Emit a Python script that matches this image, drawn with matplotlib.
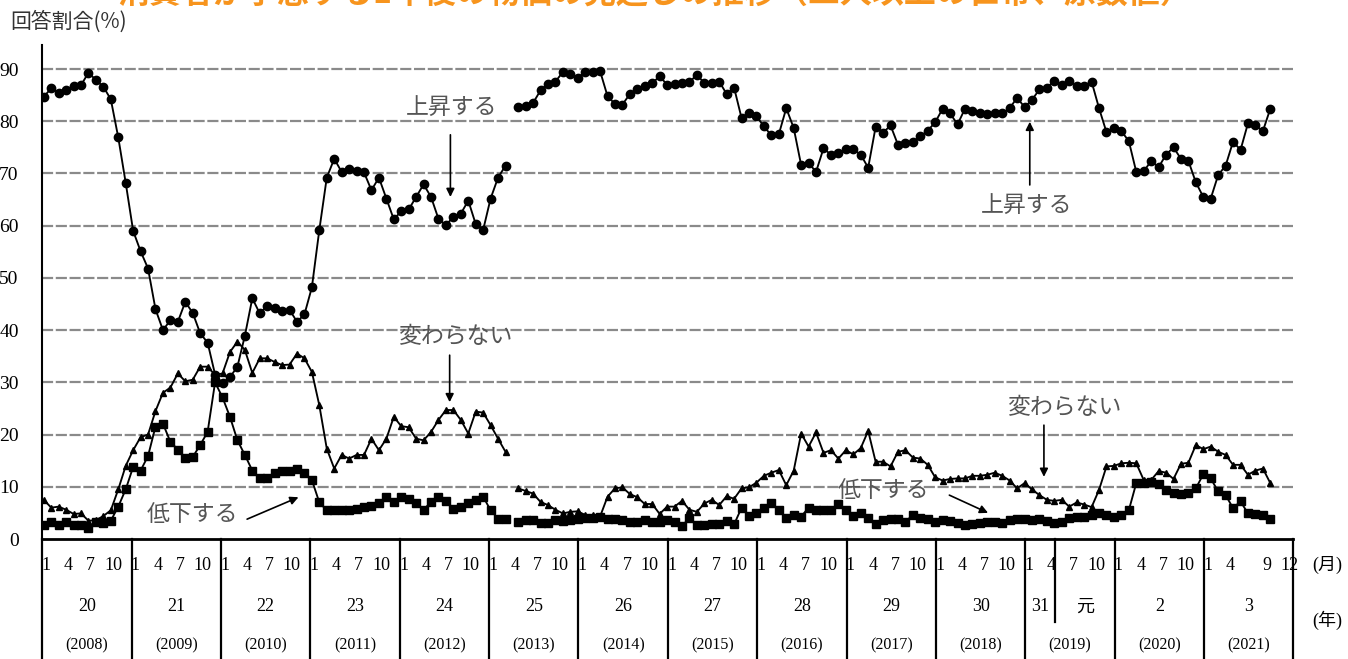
import numpy as np
import matplotlib
matplotlib.use("Agg")
import matplotlib.pyplot as plt

plt.rcParams['font.family'] = ['Liberation Serif', 'Noto Sans CJK JP', 'DejaVu Sans']

# 旧調査 2008年1月〜2013年3月 (%)
old_up = [84.7, 86.3, 85.5, 86.0, 86.8, 86.9, 89.3, 87.9, 86.6, 84.2, 76.9, 68.2,
          59.0, 55.1, 51.8, 44.0, 40.0, 41.9, 41.6, 45.4, 43.3, 39.4, 37.6, 31.5,
          29.8, 31.0, 33.0, 38.9, 46.1, 43.2, 44.7, 44.3, 43.6, 43.9, 41.6, 43.0,
          48.2, 59.2, 69.2, 72.8, 70.3, 70.8, 70.5, 70.2, 66.8, 69.2, 65.2, 61.2,
          62.8, 63.1, 65.5, 67.9, 65.5, 61.3, 60.1, 61.7, 62.3, 64.8, 60.3, 59.2,
          65.2, 69.2, 71.5]
old_same = [7.5, 6.0, 6.2, 5.6, 4.8, 4.9, 3.5, 3.6, 4.4, 5.5, 9.5, 14.0,
            17.0, 19.5, 20.0, 24.5, 28.0, 29.0, 31.7, 30.2, 30.5, 33.0, 33.0, 31.4,
            31.7, 35.8, 37.8, 36.2, 31.8, 34.6, 34.6, 33.9, 33.3, 33.4, 35.5, 34.6,
            32.0, 25.6, 17.3, 13.5, 16.1, 15.4, 16.1, 16.1, 19.2, 17.0, 19.2, 23.4,
            21.6, 21.4, 19.2, 18.9, 20.5, 22.8, 24.7, 24.7, 22.8, 20.2, 24.4, 24.2,
            21.8, 19.2, 16.7]
old_down = [2.6, 3.3, 2.6, 3.3, 2.6, 2.6, 2.2, 3.3, 3.0, 3.5, 6.2, 9.5,
            13.8, 13.1, 15.9, 21.5, 22.1, 18.6, 17.1, 15.6, 15.7, 18.0, 20.5, 30.0,
            27.1, 23.4, 18.9, 16.1, 13.1, 11.6, 11.6, 12.6, 13.1, 13.1, 13.5, 12.7,
            11.3, 7.0, 5.5, 5.5, 5.5, 5.5, 5.8, 6.2, 6.3, 6.9, 8.1, 7.1,
            8.1, 7.6, 6.8, 5.6, 7.1, 8.1, 7.3, 5.8, 6.2, 6.8, 7.4, 8.1,
            5.5, 3.9, 3.9]

# 新調査 2013年4月〜2021年9月 (%)
new_up = [82.7, 82.9, 83.5, 85.9, 87.2, 87.6, 89.4, 89.1, 88.3,
          89.4, 89.4, 89.6, 84.8, 83.3, 83.2, 85.2, 86.1, 86.7, 87.3, 88.6, 87.0,
          87.2, 87.3, 87.5, 88.9, 87.3, 87.3, 87.6, 85.2, 86.4, 80.6, 81.6, 81.0,
          79.0, 77.3, 77.5, 82.5, 78.7, 71.6, 72.0, 70.3, 74.8, 73.6, 74.0, 74.6,
          74.6, 73.6, 71.1, 78.9, 77.8, 79.2, 75.5, 75.9, 76.0, 77.1, 78.2, 79.8,
          82.4, 81.5, 79.4, 82.4, 81.9, 81.6, 81.3, 81.5, 81.5, 82.5, 84.5, 82.7,
          84.1, 86.1, 86.4, 87.8, 86.9, 87.8, 86.8, 86.8, 87.6, 82.5, 77.9, 78.7,
          78.1, 76.2, 70.3, 70.4, 72.4, 71.2, 73.6, 75.0, 72.8, 72.4, 68.3, 65.5,
          65.2, 69.7, 71.5, 76.1, 74.5, 79.6, 79.2, 78.1, 82.4]
new_same = [9.7, 9.2, 8.7, 7.1, 6.5, 5.6, 4.9, 5.2, 5.3,
            4.6, 4.6, 4.3, 8.1, 9.7, 9.9, 8.6, 8.0, 6.7, 6.7, 4.8, 6.2,
            6.2, 7.3, 5.6, 5.2, 6.8, 7.5, 6.5, 8.2, 7.7, 9.7, 9.9, 10.8,
            12.1, 12.7, 13.2, 10.3, 13.1, 20.2, 17.7, 20.4, 16.5, 17.0, 15.4, 17.0,
            16.2, 17.4, 20.7, 14.8, 14.8, 13.9, 16.7, 17.0, 15.6, 15.4, 14.2, 11.8,
            11.2, 11.5, 11.6, 11.6, 12.1, 12.1, 12.3, 12.7, 12.1, 11.2, 9.7, 10.7,
            9.5, 8.4, 7.5, 7.3, 7.5, 6.2, 7.0, 6.6, 6.1, 9.4, 13.9, 14.0,
            14.5, 14.6, 14.5, 11.3, 11.3, 13.0, 12.7, 11.5, 14.4, 14.6, 18.0, 17.2,
            17.7, 16.7, 16.1, 14.2, 14.2, 12.3, 13.1, 13.5, 10.7]
new_down = [3.3, 3.6, 3.6, 3.0, 3.0, 3.6, 3.5, 3.7, 3.8,
            4.0, 4.0, 4.2, 3.8, 3.8, 3.6, 3.3, 3.3, 3.6, 3.3, 3.3, 3.6,
            3.3, 2.5, 4.0, 2.6, 2.6, 2.9, 2.9, 3.5, 2.8, 6.0, 4.4, 4.9,
            6.0, 6.8, 5.5, 4.0, 4.6, 4.3, 6.0, 5.6, 5.6, 5.6, 6.7, 5.5,
            4.4, 4.9, 4.0, 2.9, 3.6, 3.8, 3.8, 3.3, 4.6, 4.0, 3.8, 3.3,
            3.6, 3.5, 3.1, 2.7, 2.9, 3.1, 3.3, 3.3, 3.1, 3.6, 3.8, 3.8,
            3.6, 3.8, 3.5, 3.1, 3.3, 4.0, 4.2, 4.2, 4.6, 4.9, 4.6, 4.3,
            4.6, 5.5, 10.7, 10.7, 11.0, 10.5, 9.3, 8.9, 8.7, 8.9, 9.7, 12.4,
            11.6, 9.1, 8.4, 5.9, 7.2, 4.9, 4.8, 4.6, 3.8]

years = list(range(2008, 2022))
heisei = ["20", "21", "22", "23", "24", "25", "26", "27", "28", "29", "30", "", "2", "3"]
month_ticks = [1, 4, 7, 10]
month_ticks_last = [1, 4, 9, 12]

W, H = 1348, 659
fig = plt.figure(figsize=(W / 100, H / 100), dpi=100)
ax = fig.add_axes([42.3 / W, 1 - 539 / H, (1293.4 - 42.3) / W, (539 - 45) / H])

n_months = len(years) * 12
new_start = (2013 - 2008) * 12 + 3
x_old = np.arange(len(old_up)) + 0.2
x_new = new_start + np.arange(len(new_up)) + 0.9

ax.set_xlim(0, n_months)
ax.set_ylim(0, 94.6)

for v in range(10, 100, 10):
    ax.axhline(v, color='#8a8a8a', lw=1.6, ls=(0, (5, 1.2)), zorder=1)

style = dict(color='black', lw=1.35, zorder=3)
for xs, ys in [(x_old, old_same), (x_new, new_same)]:
    ax.plot(xs, ys, marker='^', ms=4.8, **style)
for xs, ys in [(x_old, old_down), (x_new, new_down)]:
    ax.plot(xs, ys, marker='s', ms=5.3, **style)
for xs, ys in [(x_old, old_up), (x_new, new_up)]:
    ax.plot(xs, ys, marker='o', ms=6.0, **style)

for s in ['top', 'right']:
    ax.spines[s].set_visible(False)
ax.spines['left'].set_linewidth(1.5)
ax.spines['bottom'].set_linewidth(2.0)
ax.set_xticks([])
ax.set_yticks(range(0, 100, 10))
ax.tick_params(axis='y', length=0, pad=17, labelsize=14)

# 下の表
ybot = -24
for k in range(len(years) + 1):
    ax.plot([k * 12, k * 12], [0, ybot], color='black', lw=1.6, clip_on=False)
split = (2019 - 2008) * 12 + 4
ax.plot([split, split], [0, -15.9], color='black', lw=1.6, clip_on=False)

for k, yr in enumerate(years):
    ticks = month_ticks_last if k == len(years) - 1 else month_ticks
    for m in ticks:
        ax.text(k * 12 + m - 0.5, -5.0, str(m), ha='center', va='center', fontsize=13)
    if heisei[k]:
        ax.text(k * 12 + 6, -13.0, heisei[k], ha='center', va='center', fontsize=13)
    ax.text(k * 12 + 6, -20.3, f"({yr})", ha='center', va='center', fontsize=11.5)
ax.text((2019 - 2008) * 12 + 2, -13.0, "31", ha='center', va='center', fontsize=13)
ax.text((2019 - 2008) * 12 + 8, -13.0, "元", ha='center', va='center', fontsize=13)
ax.text(172.5, -5.0, "(月)", ha='center', va='center', fontsize=13)
ax.text(172.5, -15.5, "(年)", ha='center', va='center', fontsize=13)

# 注記
gray = '#555555'
arw = dict(arrowstyle='-|>', color='black', lw=1.2, mutation_scale=12, shrinkA=0, shrinkB=0)
notes = [
    ("上昇する", (54.9, 82.6), (54.8, 77.4), (54.8, 65.5)),
    ("上昇する", (132.2, 63.8), (132.6, 67.8), (132.6, 79.9)),
    ("変わらない", (55.4, 38.7), (54.7, 35.2), (54.7, 26.2)),
    ("変わらない", (137.2, 25.1), (134.5, 21.8), (134.5, 11.9)),
    ("低下する", (20.1, 4.6), (27.5, 3.8), (34.4, 8.0)),
    ("低下する", (113.0, 9.2), (121.8, 8.4), (127.0, 5.0)),
]
for txt, pos, a0, a1 in notes:
    ax.text(pos[0], pos[1], txt, ha='center', va='center', fontsize=16.5,
            color=gray, family=['Noto Sans CJK JP'], zorder=5)
    ax.annotate('', xy=a1, xytext=a0, arrowprops=arw, zorder=5)

fig.text(10 / W, 1 - 22 / H, "回答割合(%)", ha='left', va='center', fontsize=15,
         color='#333333', family=['Noto Sans CJK JP'])
# タイトル (元画像でも上端で切れている)
fig.text(655 / W, 1 - 3 / H, "消費者が予想する1年後の物価の見通しの推移（二人以上の世帯、原数値）",
         ha='center', va='baseline', fontsize=23, fontweight='bold', color='#F7941D',
         family=['Noto Sans CJK JP'])

fig.savefig("out.png", dpi=100, facecolor='white')
